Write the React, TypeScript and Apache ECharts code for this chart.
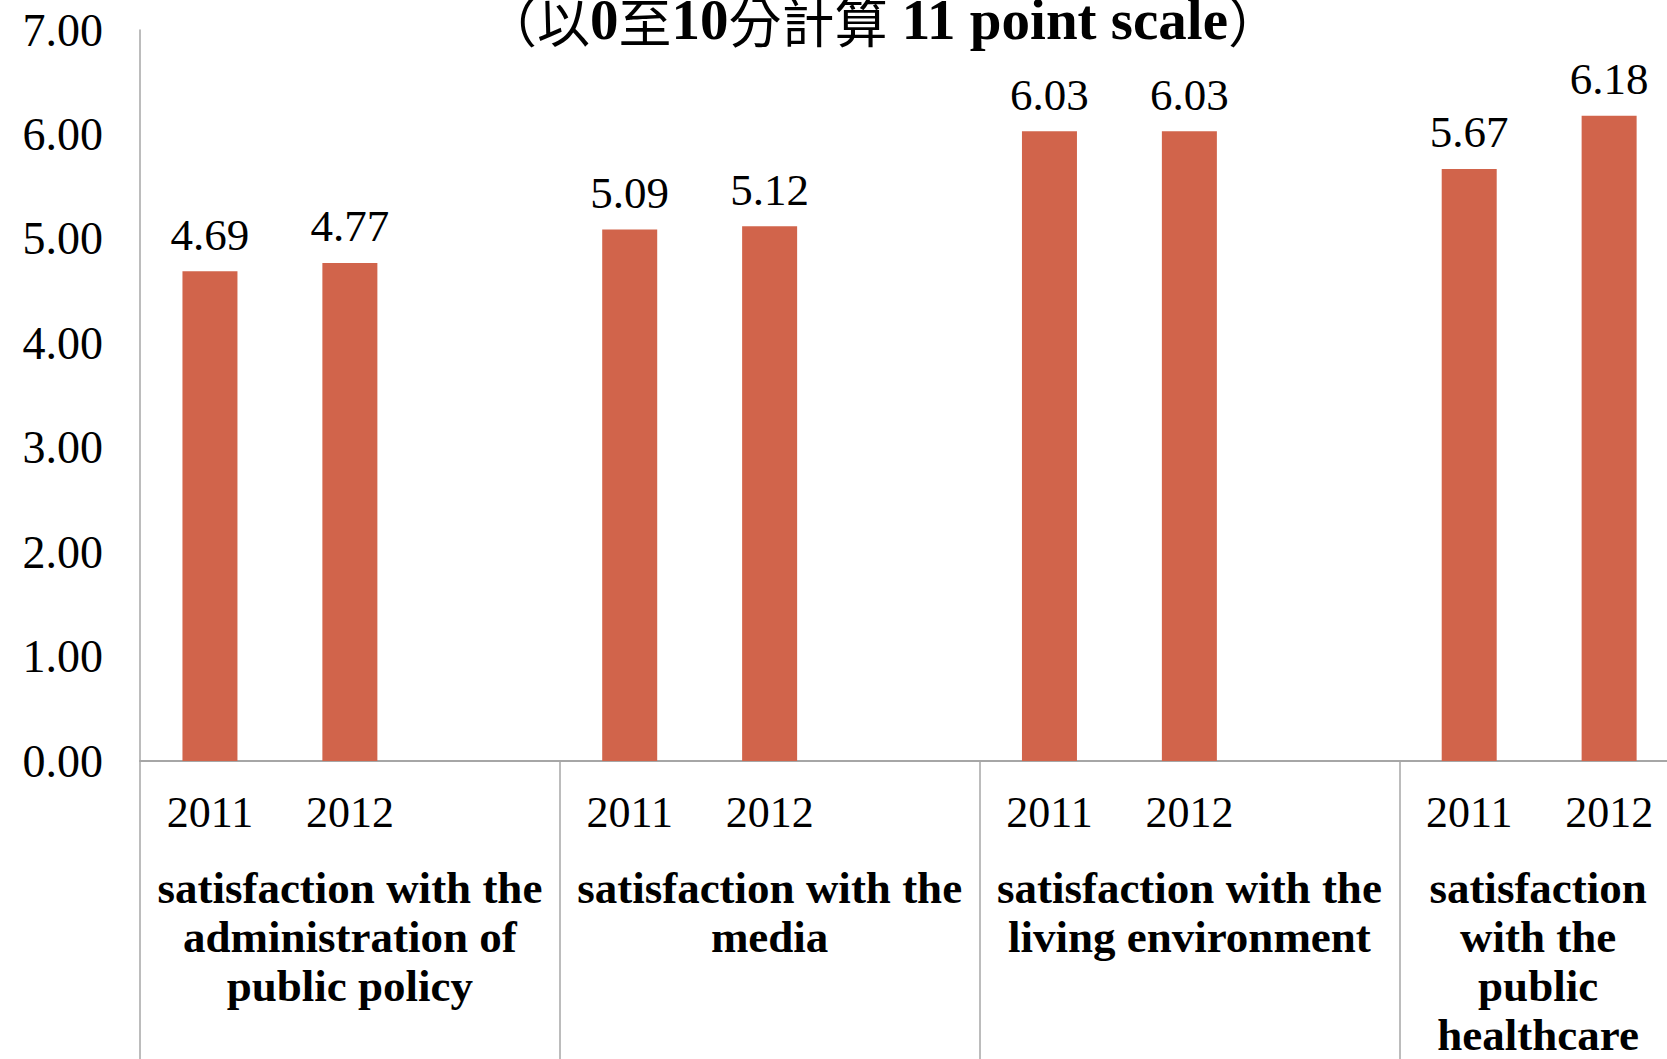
import React, { useEffect, useRef } from "react";
import * as echarts from "echarts";

const titleParts: [string, "c" | "b"][] = [
  ["（以", "c"],
  ["0", "b"],
  ["至", "c"],
  ["10", "b"],
  ["分計算", "c"],
  [" 11 point scale", "b"],
  ["）", "c"],
];
const years = ["2011", "2012", "", "2011", "2012", "", "2011", "2012", "", "2011", "2012", ""];
const values: (number | string)[] = [4.69, 4.77, "-", 5.09, 5.12, "-", 6.03, 6.03, "-", 5.67, 6.18, "-"];
const groups = [
  "satisfaction with the\nadministration of\npublic policy",
  "satisfaction with the\nmedia",
  "satisfaction with the\nliving environment",
  "satisfaction\nwith the\npublic\nhealthcare",
];
const yTicks = [0, 1, 2, 3, 4, 5, 6, 7];

const SERIF = "'Liberation Serif', 'DejaVu Serif', serif";
const BAR = "#D1644B";
const AXIS = "#A6A6A6";

export default function App() {
  const ref = useRef<HTMLDivElement>(null);
  useEffect(() => {
    document.body.style.margin = "0";
    const chart = echarts.init(ref.current!, null, { renderer: "svg" });
    chart.setOption({
      animation: false,
      backgroundColor: "#ffffff",
      title: {
        text: titleParts.map(([t, s]) => `{${s}|${t}}`).join(""),
        left: 484,
        top: -9,
        padding: 0,
        textStyle: {
          fontFamily: "'Liberation Serif', 'Noto Sans CJK TC', serif",
          fontWeight: "bold",
          fontSize: 57,
          color: "#000",
          rich: {
            b: {
              fontFamily: "'Liberation Serif', serif",
              fontWeight: "bold",
              fontSize: 57,
              color: "#000",
            },
            c: {
              fontFamily: "'Noto Sans CJK TC', sans-serif",
              fontWeight: "normal",
              fontSize: 53,
              color: "#000",
            },
          },
        },
      },
      grid: { left: 140, top: 30, right: 11, bottom: 287, containLabel: false },
      yAxis: {
        type: "value",
        min: yTicks[0],
        max: yTicks[yTicks.length - 1],
        interval: 1,
        axisLine: { show: true, lineStyle: { color: AXIS, width: 1.5 } },
        axisTick: { show: false },
        splitLine: { show: false },
        axisLabel: {
          margin: 37,
          formatter: (v: number) => v.toFixed(2),
          fontFamily: SERIF,
          fontSize: 46,
          color: "#000",
        },
      },
      xAxis: [
        {
          type: "category",
          data: years,
          position: "bottom",
          axisLine: { show: true, lineStyle: { color: AXIS, width: 2 } },
          axisTick: { show: false },
          axisLabel: {
            interval: 0,
            margin: 29,
            fontFamily: SERIF,
            fontSize: 44,
            color: "#000",
          },
        },
        {
          type: "category",
          data: groups.map((g, i) =>
            i === 3 ? { value: g, textStyle: { padding: [0, 142, 0, 0] } } : g
          ),
          position: "bottom",
          axisLine: { show: false },
          axisTick: { show: true, length: 320, lineStyle: { color: AXIS, width: 1.5 } },
          axisLabel: {
            interval: 0,
            margin: 102,
            fontFamily: SERIF,
            fontWeight: "bold",
            fontSize: 45,
            lineHeight: 49,
            color: "#000",
            align: "center",
          },
        },
      ],
      series: [
        {
          type: "bar",
          xAxisIndex: 0,
          data: values,
          barWidth: 55,
          itemStyle: { color: BAR },
          label: {
            show: true,
            position: "top",
            distance: 14,
            formatter: (p: any) => Number(p.value).toFixed(2),
            fontFamily: SERIF,
            fontSize: 45,
            color: "#000",
          },
        },
      ],
    });
    return () => chart.dispose();
  }, []);
  return (
    <div style={{ width: 1667, height: 1059, overflow: "hidden", position: "relative" }}>
      <div ref={ref} style={{ width: 1830, height: 1059 }} />
    </div>
  );
}
